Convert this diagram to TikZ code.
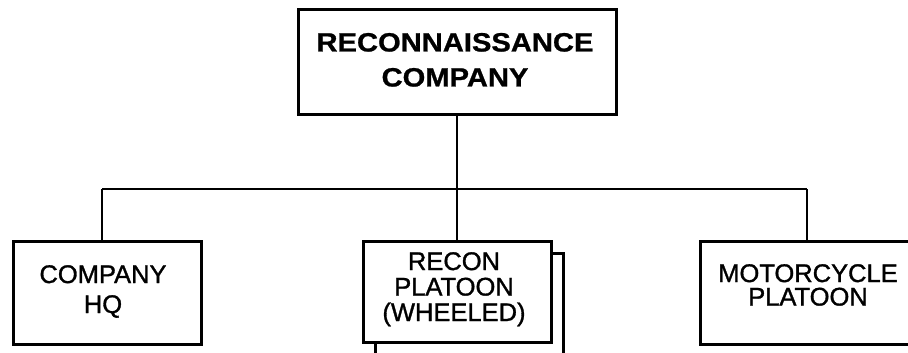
\documentclass[tikz,border=0pt]{standalone}
\usepackage{fontspec}
\setmainfont{Liberation Sans}
\newfontfamily\heavyfont[FakeBold=1.2]{Liberation Sans}
\newfontfamily\heavybold[FakeBold=0.8]{Liberation Sans Bold}
\begin{document}
\begin{tikzpicture}[x=1pt,y=-1pt,
  box/.style={draw=black,line width=2.8pt,fill=white,inner sep=0pt,anchor=north west},
  conn/.style={line width=2.4pt},
  lbl/.style={anchor=base,inner sep=0pt},
  big/.style={lbl,font=\fontsize{26.5}{30}\heavybold},
  small/.style={lbl,font=\fontsize{25.5}{30}\heavyfont}]
\useasboundingbox (0,0) rectangle (908,353);
\clip (0,0) rectangle (908,353);
% boxes
\node[box,minimum width=318pt,minimum height=105pt] (top) at (297,8) {};
\node[box,minimum width=188pt,minimum height=103pt] (hq) at (12,240) {};
\node[box,minimum width=188pt,minimum height=101pt] (recon2) at (374,252) {};
\node[box,minimum width=188pt,minimum height=101pt] (recon) at (362,240) {};
\node[box,minimum width=216pt,minimum height=103pt] (moto) at (699,240) {};
% connectors
\coordinate (busL) at (102,189);
\coordinate (busM) at (457,189);
\coordinate (busR) at (807,189);
\draw[conn] (top.south -| busM) -- (busM);
\draw[conn] (busL) -- (busR);
\draw[conn] (busL) -- (busL |- hq.north);
\draw[conn] (busM) -- (busM |- recon.north);
\draw[conn] (busR) -- (busR |- moto.north);
% texts
\node[big] (t1) at (455,51.5) {\scalebox{1.1}[1]{RECONNAISSANCE}};
\node[big] (t2) at (455,86.5) {\scalebox{1.1}[1]{COMPANY}};
\node[small] (h1) at (103,283) {COMPANY};
\node[small] (h2) at (103,313) {HQ};
\node[small] (r1) at (454,270) {RECON};
\node[small] (r2) at (454,295.5) {PLATOON};
\node[small] (r3) at (454,321) {(WHEELED)};
\node[small] (m1) at (808,282) {MOTORCYCLE};
\node[small] (m2) at (808,305.5) {PLATOON};
\end{tikzpicture}
\end{document}
